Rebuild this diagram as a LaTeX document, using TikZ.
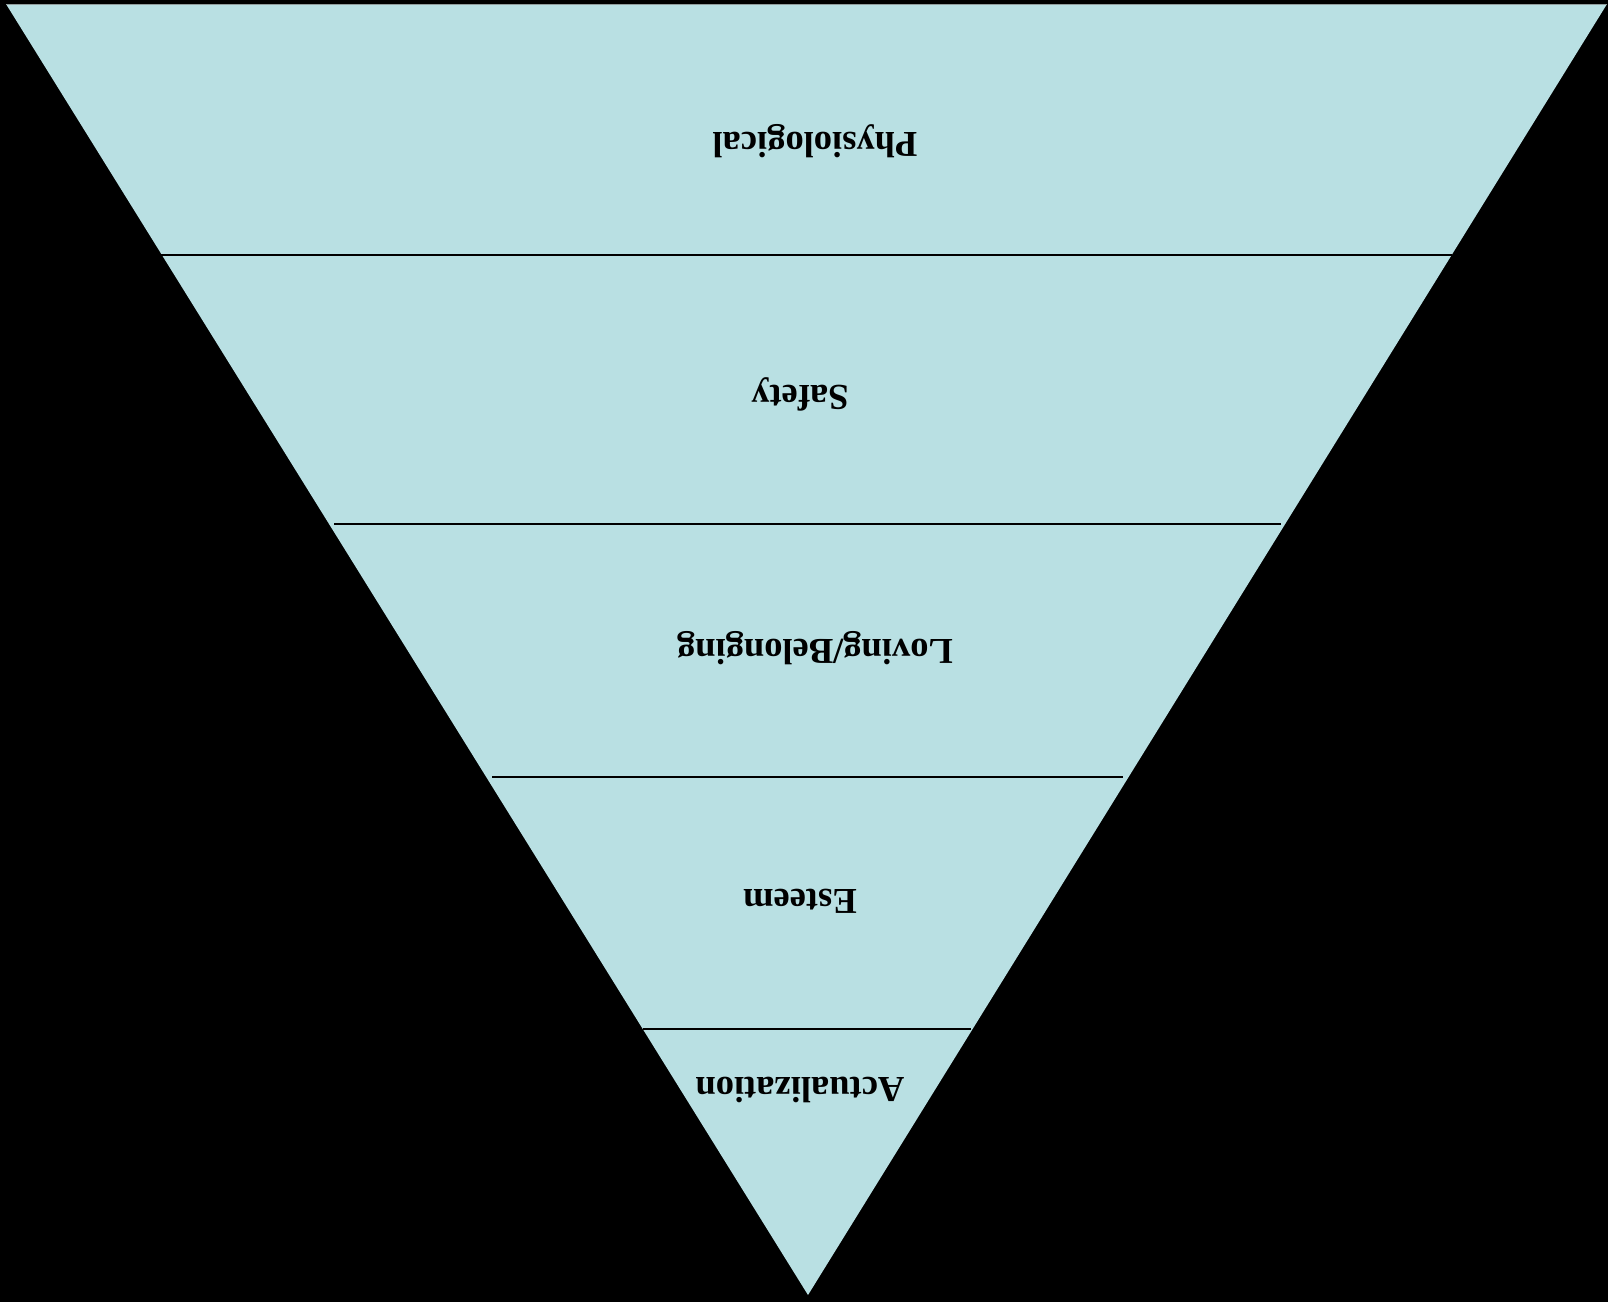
\documentclass[tikz,border=0pt]{standalone}
\usepackage{fontspec}
\setmainfont{Liberation Serif}
\definecolor{tri}{RGB}{185,224,227}
\begin{document}
\begin{tikzpicture}[x=1pt,y=-1pt,
  lvl/.style={font=\fontsize{36.5}{40}\selectfont\bfseries, rotate=180, inner sep=0pt, text=black},
  sep/.style={draw=black, line width=2pt}]
\fill[black] (0,0) rectangle (1608,1302);
\useasboundingbox (0,0) rectangle (1608,1302);
\coordinate (tl) at (6,4);
\coordinate (tr) at (1607,4);
\coordinate (ap) at (808,1295);
\fill[tri] (tl) -- (tr) -- (ap) -- cycle;
\draw[gray!70!tri, line width=0.8pt] (tl) -- (tr);
% separators
\coordinate (La) at (161,255.4);  \coordinate (Ra) at (1452,255.4);
\coordinate (Lb) at (334,524);    \coordinate (Rb) at (1281,524);
\coordinate (Lc) at (492,777);    \coordinate (Rc) at (1123,777);
\coordinate (Ld) at (643,1029);   \coordinate (Rd) at (971,1029);
\draw[sep] (La) -- (Ra);
\draw[sep] (Lb) -- (Rb);
\draw[sep] (Lc) -- (Rc);
\draw[sep] (Ld) -- (Rd);
\node[lvl] (phys) at (815,141) {Physiological};
\node[lvl] (safe) at (800,394) {Safety};
\node[lvl] (love) at (815,648) {Loving/Belonging};
\node[lvl] (este) at (800,901) {Esteem};
\node[lvl] (actu) at (800,1090) {Actualization};
\end{tikzpicture}
\end{document}
